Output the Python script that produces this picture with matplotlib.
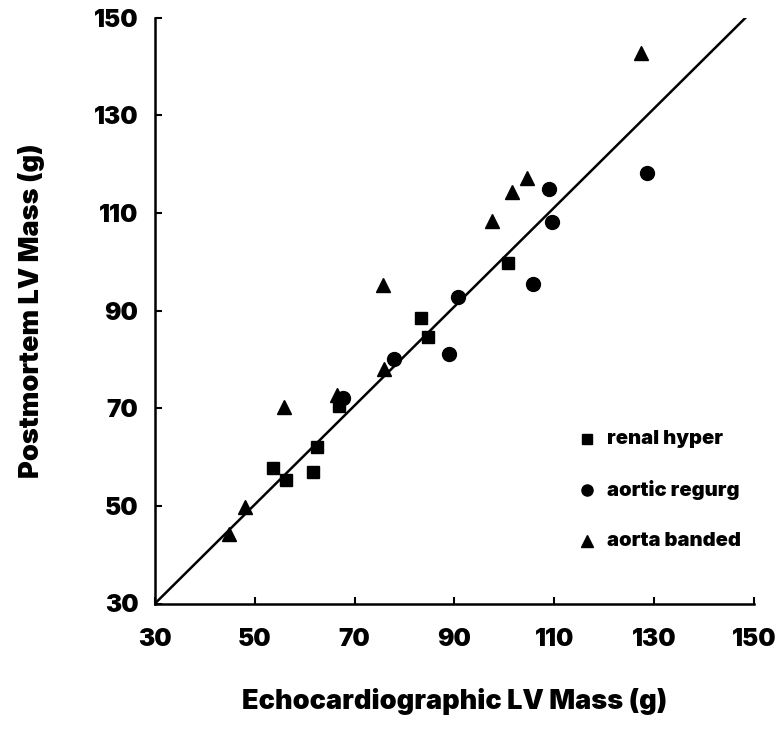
import matplotlib
matplotlib.use("Agg")
import matplotlib.pyplot as plt

# Data (echo LV mass, postmortem LV mass), grams
renal_x = [53.6, 56.3, 61.7, 62.4, 66.9, 83.3, 84.7, 100.7]
renal_y = [57.7, 55.3, 57.0, 62.1, 70.5, 88.4, 84.6, 99.8]
regurg_x = [67.7, 77.8, 88.8, 90.8, 105.7, 109.6, 109.0, 128.5]
regurg_y = [72.0, 80.0, 81.2, 92.8, 95.4, 108.2, 115.0, 118.2]
banded_x = [44.9, 48.0, 55.9, 66.4, 75.8, 75.6, 97.6, 101.6, 104.5, 127.4]
banded_y = [44.3, 49.8, 70.3, 72.7, 78.1, 95.3, 108.3, 114.3, 117.2, 142.7]
line_x = [30, 149.3]
line_y = [30, 151.0]
ticks = [30, 50, 70, 90, 110, 130, 150]
labels = ["renal hyper", "aortic regurg", "aorta banded"]

plt.rcParams['font.family'] = ['Inter', 'DejaVu Sans']
plt.rcParams['font.weight'] = 900

fig = plt.figure(figsize=(7.82, 7.31), dpi=100)
ax = fig.add_axes([155/782, 1-603.5/731, (754-155)/782, (603.5-17.7)/731])

ax.plot(line_x, line_y, color='black', lw=1.8, solid_capstyle='butt')
ax.plot(renal_x, renal_y, 's', color='black', ms=9, label=labels[0])
ax.plot(regurg_x, regurg_y, 'o', color='black', ms=10, label=labels[1])
ax.plot(banded_x, banded_y, '^', color='black', ms=10, label=labels[2])

ax.set_xlim(30, 150)
ax.set_ylim(30, 150)
ax.set_xticks(ticks)
ax.set_yticks(ticks)
ax.tick_params(direction='in', length=5, width=1.5, labelsize=17.5)
ax.tick_params(axis='y', pad=12)
ax.tick_params(axis='x', pad=18)
for t in ax.get_xticklabels() + ax.get_yticklabels():
    t.set_fontweight(900)
for s in ['top', 'right']:
    ax.spines[s].set_visible(False)
for s in ['left', 'bottom']:
    ax.spines[s].set_linewidth(1.8)

ax.set_xlabel("Echocardiographic LV Mass (g)", fontsize=19.5, fontweight=900, labelpad=26)
ax.set_ylabel("Postmortem LV Mass (g)", fontsize=19.5, fontweight=900, labelpad=35)

# legend entries (manual placement like the original)
leg_markers = ['s', 'o', '^']
leg_sizes = [7, 8, 8]
leg_y = [63.7, 53.2, 42.8]
for m, s, yy, lab in zip(leg_markers, leg_sizes, leg_y, labels):
    ax.plot([116.5], [yy], m, color='black', ms=s, clip_on=False)
    ax.text(120.5, yy, lab, fontsize=14.5, fontweight=900, va='center', ha='left')

fig.savefig("out.png", dpi=100)
